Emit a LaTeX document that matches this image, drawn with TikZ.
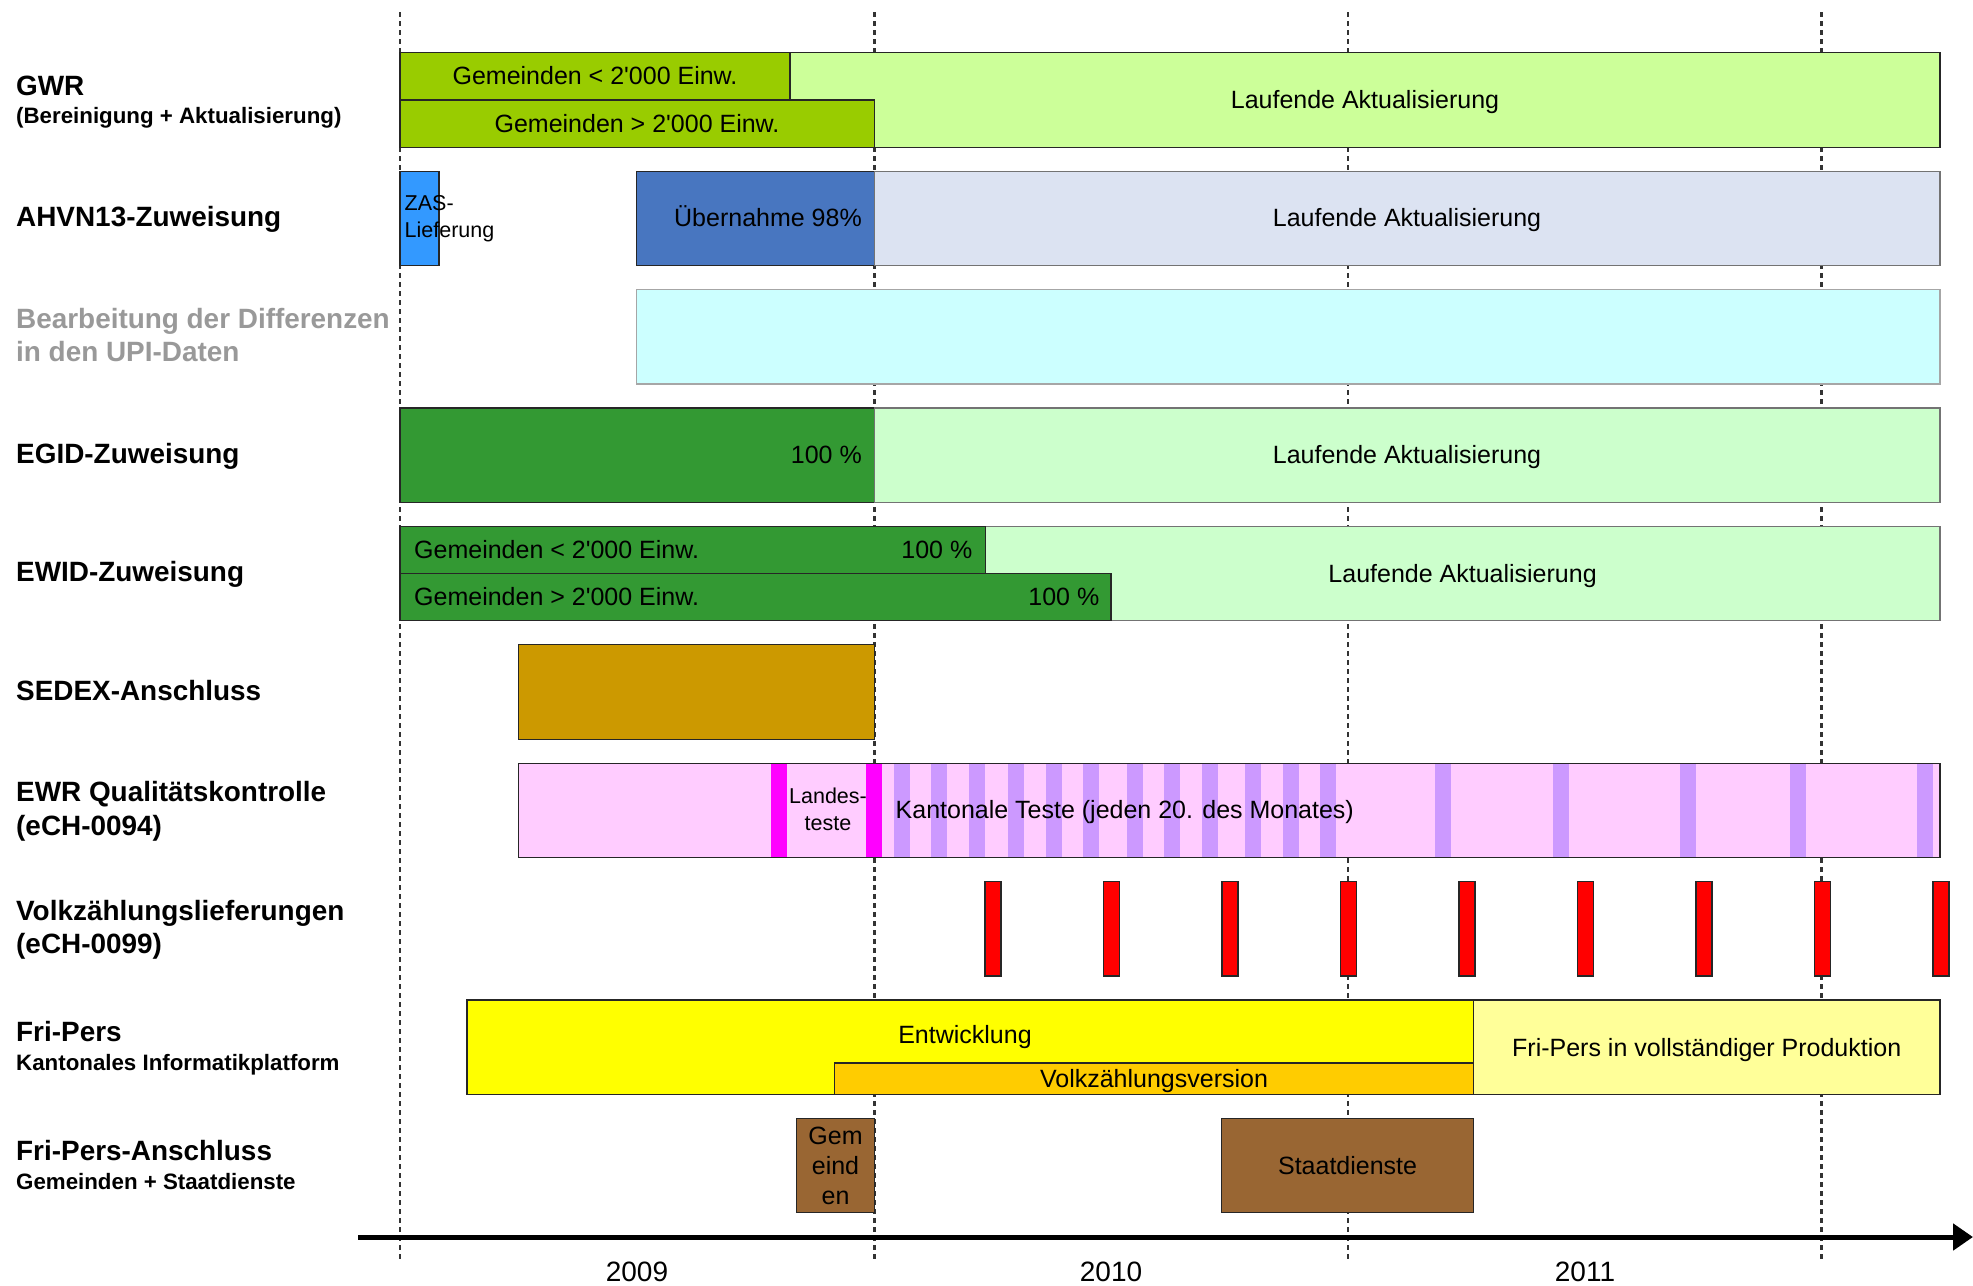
\documentclass[tikz,border=0pt]{standalone}
\usepackage{fontspec}
\setmainfont{Liberation Sans}
\usetikzlibrary{arrows.meta}
\definecolor{gwrdark}{HTML}{99CC00}
\definecolor{gwrlight}{HTML}{CCFF99}
\definecolor{zasblue}{HTML}{3399FF}
\definecolor{uebblue}{HTML}{4876C0}
\definecolor{ahvlight}{HTML}{DCE3F2}
\definecolor{upicyan}{HTML}{CCFFFF}
\definecolor{dkgreen}{HTML}{339933}
\definecolor{ltgreen}{HTML}{CCFFCC}
\definecolor{sedex}{HTML}{CC9900}
\definecolor{ewrpink}{HTML}{FFCCFF}
\definecolor{ewrmag}{HTML}{FF00FF}
\definecolor{ewrpurple}{HTML}{CC99FF}
\definecolor{vzred}{HTML}{FF0000}
\definecolor{fpyellow}{HTML}{FFFF00}
\definecolor{fppale}{HTML}{FFFF99}
\definecolor{fporange}{HTML}{FFCC00}
\definecolor{brownbox}{HTML}{996633}
\definecolor{greylbl}{HTML}{999999}
\newcommand\ganttbar[5]{\filldraw[barbox,fill=#5] (#1,#2) rectangle (#3,#4);}
\begin{document}
\begin{tikzpicture}[x=1pt,y=-1pt,
  barbox/.style={draw=black!85,line width=1.3pt},
  lightbox/.style={draw=black!55,line width=1.3pt},
  bartext/.style={font=\fontsize{25}{30}\selectfont,inner sep=0,text height=22.2pt,text depth=5.2pt},
  smalltext/.style={font=\fontsize{21.5}{26}\selectfont,inner sep=0},
  lbl/.style={font=\bfseries\fontsize{27.9}{33}\selectfont,anchor=base west,inner sep=0},
  sublbl/.style={font=\bfseries\fontsize{22.3}{26}\selectfont,anchor=base west,inner sep=0},
  yearlbl/.style={font=\fontsize{28}{33}\selectfont,anchor=base,inner sep=0},
  yeardash/.style={draw=black!80,line width=2.6pt,dash pattern=on 4.5pt off 4.5pt},
  axis/.style={line width=5pt,-{Triangle[length=20pt,width=26pt]}}]
\useasboundingbox (0,0) rectangle (1973,1285);
\fill[white] (0,0) rectangle (1973,1285);

% year separators
\foreach \i/\x in {0/400,1/874.5,2/1348,3/1821.5}{
  \coordinate (dt\i) at (\x,12);
  \coordinate (db\i) at (\x,1262);
  \draw[yeardash] (dt\i) -- (db\i);
}

% left labels
\node[lbl] (lGWR) at (16,95.2) {GWR};
\node[sublbl] (lGWRs) at (16,123.3) {(Bereinigung + Aktualisierung)};
\node[lbl] (lAHV) at (16,226.7) {AHVN13-Zuweisung};
\node[lbl,text=greylbl] (lUPI1) at (16,328.3) {Bearbeitung der Differenzen};
\node[lbl,text=greylbl] (lUPI2) at (16,361) {in den UPI-Daten};
\node[lbl] (lEGID) at (16,463.3) {EGID-Zuweisung};
\node[lbl] (lEWID) at (16,581.7) {EWID-Zuweisung};
\node[lbl] (lSEDEX) at (16,700) {SEDEX-Anschluss};
\node[lbl] (lEWR1) at (16,801.7) {EWR Qualitätskontrolle};
\node[lbl] (lEWR2) at (16,835) {(eCH-0094)};
\node[lbl] (lVZ1) at (16,920) {Volkzählungslieferungen};
\node[lbl] (lVZ2) at (16,953.3) {(eCH-0099)};
\node[lbl] (lFP) at (16,1041.7) {Fri-Pers};
\node[sublbl] (lFPs) at (16,1070.7) {Kantonales Informatikplatform};
\node[lbl] (lFPA) at (16,1160) {Fri-Pers-Anschluss};
\node[sublbl] (lFPAs) at (16,1189.3) {Gemeinden + Staatdienste};

% GWR
\ganttbar{790}{52.8}{1940}{147.2}{gwrlight}
\ganttbar{400}{52.8}{790}{100}{gwrdark}
\ganttbar{400}{100}{874.5}{147.2}{gwrdark}
\node[bartext] (gwr1) at (595,76.4) {Gemeinden < 2\textquotesingle 000 Einw.};
\node[bartext] (gwr2) at (637,123.6) {Gemeinden > 2\textquotesingle 000 Einw.};
\node[bartext] (gwr3) at (1365,100) {Laufende Aktualisierung};

% AHVN13
\ganttbar{400}{171.2}{439}{265.6}{zasblue}
\node[smalltext,anchor=base west] (zas1) at (404.5,210) {ZAS-};
\node[smalltext,anchor=base west] (zas2) at (404.5,237.3) {Lieferung};
\ganttbar{636.7}{171.2}{874.5}{265.6}{uebblue}
\node[bartext,anchor=east] (ueb) at (862,218.4) {Übernahme 98\%};
\filldraw[lightbox,fill=ahvlight] (874.5,171.2) rectangle (1940,265.6);
\node[bartext] (ahvl) at (1407,218.4) {Laufende Aktualisierung};

% UPI
\filldraw[draw=black!35,line width=1.3pt,fill=upicyan] (636.7,289.6) rectangle (1940,384);

% EGID
\ganttbar{400}{408}{874.5}{502.4}{dkgreen}
\node[bartext,anchor=east] (egid1) at (862,455.2) {100 \%};
\filldraw[lightbox,fill=ltgreen] (874.5,408) rectangle (1940,502.4);
\node[bartext] (egid2) at (1407,455.2) {Laufende Aktualisierung};

% EWID
\filldraw[lightbox,fill=ltgreen] (985.3,526.4) rectangle (1940,620.8);
\ganttbar{400}{526.4}{985.3}{573.6}{dkgreen}
\ganttbar{400}{573.6}{1111}{620.8}{dkgreen}
\node[bartext,anchor=west] (ewid1) at (414,550) {Gemeinden < 2\textquotesingle 000 Einw.};
\node[bartext,anchor=east] (ewid2) at (972.5,550) {100 \%};
\node[bartext,anchor=west] (ewid3) at (414,597.2) {Gemeinden > 2\textquotesingle 000 Einw.};
\node[bartext,anchor=east] (ewid4) at (1099.5,597.2) {100 \%};
\node[bartext] (ewid5) at (1462.6,573.6) {Laufende Aktualisierung};

% SEDEX
\ganttbar{518.4}{644.8}{874.5}{739.2}{sedex}

% EWR
\fill[ewrpink] (518.4,763.2) rectangle (1940,857.6);
\foreach \a/\b in {771/787,866/882}{\fill[ewrmag] (\a,763.2) rectangle (\b,857.6);}
\foreach \a/\b in {894/910,931/947,969/985,1008/1024,1046/1062,1083/1099,1127/1143,1164/1180,1202/1218,1245/1261,1283/1299,1320/1336,1435/1451,1553/1569,1680/1696,1790/1806,1917/1933}{\fill[ewrpurple] (\a,763.2) rectangle (\b,857.6);}
\draw[barbox] (518.4,763.2) rectangle (1940,857.6);
\node[smalltext,anchor=base] (land1) at (828,803.3) {Landes-};
\node[smalltext,anchor=base] (land2) at (828,830) {teste};
\node[bartext,anchor=base west,text height=,text depth=] (kant) at (895.5,818.3) {Kantonale Teste (jeden 20. des Monates)};

% Volkszaehlungslieferungen
\foreach \k in {1,...,9}{
  \pgfmathsetmacro\cx{874.5+118.5*\k}
  \filldraw[barbox,fill=vzred] (\cx-8,881.6) rectangle (\cx+8,976);
}

% Fri-Pers
\ganttbar{467}{1000}{1473.5}{1094.4}{fpyellow}
\ganttbar{1473.5}{1000}{1940}{1094.4}{fppale}
\ganttbar{834.3}{1063}{1473.5}{1094.4}{fporange}
\node[bartext] (entw) at (965,1034.5) {Entwicklung};
\node[bartext] (vzv) at (1154,1079) {Volkzählungsversion};
\node[bartext] (fpp) at (1706.7,1047.5) {Fri-Pers in vollständiger Produktion};

% Fri-Pers-Anschluss
\ganttbar{796.5}{1118.4}{874.5}{1212.8}{brownbox}
\node[bartext,anchor=base,text height=,text depth=] (gem1) at (835.5,1144.3) {Gem};
\node[bartext,anchor=base,text height=,text depth=] (gem2) at (835.5,1174.3) {eind};
\node[bartext,anchor=base,text height=,text depth=] (gem3) at (835.5,1204.3) {en};
\ganttbar{1221.8}{1118.4}{1473.5}{1212.8}{brownbox}
\node[bartext] (staat) at (1347.6,1165.6) {Staatdienste};

% axis
\coordinate (axL) at (358,1237);
\coordinate (axR) at (1973,1237);
\draw[axis] (axL) -- (axR);
\node[yearlbl] (y2009) at (637,1281.7) {2009};
\node[yearlbl] (y2010) at (1111,1281.7) {2010};
\node[yearlbl] (y2011) at (1585,1281.7) {2011};
\end{tikzpicture}
\end{document}
